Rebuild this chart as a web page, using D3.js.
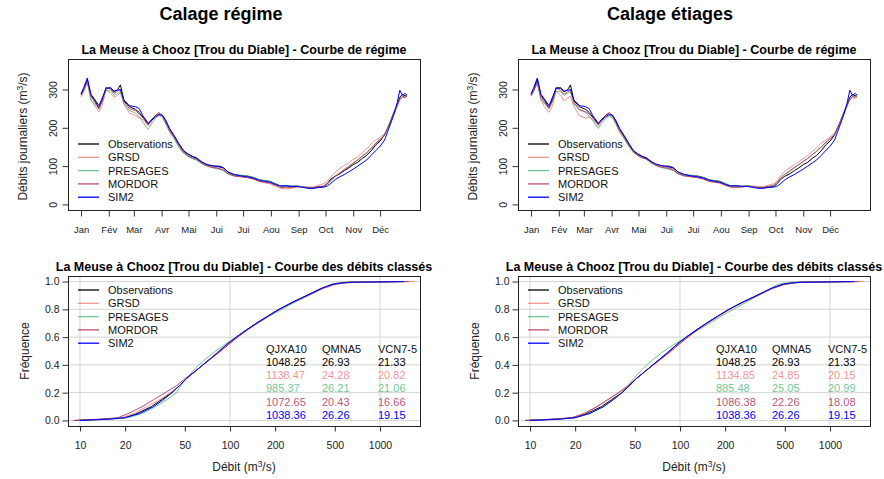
<!DOCTYPE html>
<meta charset="utf-8">
<style>
body { margin: 0; background: #fff; }
svg text { font-family: "Liberation Sans", Arial, sans-serif; }
</style>
<body>
<script src="https://cdn.jsdelivr.net/npm/d3@7"></script>
<script>
// --- data ---
var seriesNames = ["Observations", "GRSD", "PRESAGES", "MORDOR", "SIM2"];
var seriesColors = ["#000000", "#F08080", "#3CB371", "#B03060", "#0000FF"];
var seriesOpacity = [1, 0.85, 0.75, 0.85, 1];

var monthDays = [1, 32, 60, 91, 121, 152, 182, 213, 244, 274, 305, 335];
var monthLabels = ["Jan", "Fév", "Mar", "Avr", "Mai", "Jui", "Jui", "Aou", "Sep", "Oct", "Nov", "Déc"];
var regimeTicks = [0, 100, 200, 300];

var days = [1, 4, 8, 12, 16, 21, 25, 29, 34, 38, 42, 45, 49, 55, 62, 66, 70, 76, 80, 84,
  88, 92, 96, 100, 105, 110, 115, 120, 125, 130, 135, 140, 145, 150, 155, 160, 165, 172, 180, 187,
  194, 200, 206, 212, 218, 224, 230, 236, 242, 248, 254, 260, 266, 272, 276, 280, 285, 290, 295, 300,
  305, 310, 315, 320, 325, 330, 335, 340, 345, 350, 354, 357, 360, 363, 365];

var regObs = [290, 300, 326, 285, 272, 252, 275, 305, 303, 294, 300, 312, 270, 255, 248,
  240, 228, 210, 222, 232, 236, 232, 215, 195, 178, 158, 140, 132, 125, 122,
  112, 105, 102, 100, 100, 96, 84, 78, 75, 74, 70, 64, 62, 60, 54,
  48, 48, 47, 48, 46, 44, 43, 46, 47, 54, 66, 74, 80, 88, 95,
  104, 110, 120, 128, 140, 155, 165, 182, 208, 238, 260, 280, 287, 283, 288];
var regSim2 = [288, 305, 330, 288, 275, 258, 280, 302, 305, 296, 298, 300, 272, 258, 255,
  250, 232, 212, 220, 228, 234, 233, 218, 198, 180, 160, 142, 132, 126, 120,
  112, 106, 102, 100, 98, 95, 85, 78, 74, 72, 68, 63, 60, 58, 52,
  48, 49, 47, 47, 45, 42, 42, 44, 45, 48, 55, 65, 72, 78, 85,
  92, 100, 108, 116, 128, 140, 152, 168, 200, 232, 265, 298, 285, 290, 285];

// calage régime
var regGrsdA = [280, 295, 318, 275, 258, 242, 262, 300, 290, 280, 285, 292, 262, 238, 232,
  226, 222, 205, 218, 230, 238, 228, 208, 188, 172, 152, 136, 126, 120, 116,
  108, 102, 98, 96, 94, 90, 80, 74, 72, 70, 66, 60, 56, 54, 48,
  42, 40, 42, 46, 47, 46, 45, 50, 54, 60, 72, 84, 94, 102, 108,
  118, 124, 135, 145, 158, 168, 175, 185, 205, 232, 255, 272, 280, 278, 282];
var regPresagesA = [285, 298, 320, 272, 262, 250, 270, 298, 296, 285, 290, 295, 262, 245, 238,
  228, 215, 196, 212, 225, 232, 226, 210, 190, 172, 150, 134, 126, 120, 116,
  108, 102, 98, 94, 92, 88, 80, 76, 76, 74, 70, 64, 62, 60, 54,
  48, 48, 48, 48, 46, 44, 42, 44, 46, 52, 62, 72, 82, 92, 100,
  108, 116, 126, 136, 146, 158, 168, 182, 208, 236, 258, 275, 280, 282, 284];
var regMordorA = [285, 298, 322, 282, 268, 250, 272, 306, 300, 290, 296, 300, 268, 250, 244,
  236, 226, 208, 220, 232, 240, 232, 214, 194, 176, 156, 138, 128, 122, 118,
  110, 102, 98, 96, 94, 90, 80, 74, 72, 70, 66, 60, 58, 56, 50,
  44, 44, 44, 46, 45, 43, 43, 46, 48, 54, 64, 74, 82, 90, 98,
  108, 116, 126, 134, 146, 160, 170, 180, 206, 234, 258, 276, 282, 280, 283];

// calage étiages
var regGrsdB = [282, 296, 316, 272, 255, 240, 258, 296, 285, 270, 278, 282, 255, 232, 225,
  228, 222, 204, 218, 230, 236, 228, 208, 188, 172, 154, 138, 128, 122, 118,
  110, 104, 100, 98, 96, 92, 82, 76, 72, 70, 66, 60, 58, 56, 50,
  46, 44, 46, 48, 48, 47, 46, 50, 54, 60, 76, 88, 96, 104, 112,
  120, 128, 138, 148, 160, 168, 176, 186, 208, 234, 256, 272, 278, 276, 280];
var regPresagesB = [286, 298, 318, 275, 264, 252, 270, 296, 294, 284, 290, 294, 262, 246, 240,
  230, 218, 198, 212, 224, 230, 226, 210, 190, 172, 152, 136, 128, 122, 118,
  108, 102, 98, 94, 92, 88, 80, 76, 76, 74, 70, 64, 62, 60, 54,
  48, 48, 48, 49, 47, 45, 44, 46, 48, 54, 66, 76, 86, 96, 104,
  112, 120, 130, 140, 150, 160, 170, 184, 210, 236, 258, 274, 280, 282, 284];
var regMordorB = [284, 297, 320, 280, 266, 250, 270, 304, 298, 288, 294, 298, 266, 248, 242,
  236, 226, 208, 220, 232, 240, 232, 214, 194, 176, 156, 138, 128, 122, 118,
  110, 102, 98, 96, 94, 90, 80, 74, 72, 70, 66, 60, 58, 56, 50,
  45, 45, 45, 47, 46, 44, 44, 47, 50, 58, 70, 80, 88, 96, 104,
  112, 120, 130, 138, 150, 162, 172, 182, 208, 236, 258, 276, 282, 280, 283];

// courbe des débits classés : fréquence -> débit
var fdcFreq = [0, 0.005, 0.01, 0.02, 0.05, 0.1, 0.15, 0.2, 0.25, 0.3, 0.35, 0.4, 0.45, 0.5,
  0.55, 0.6, 0.65, 0.7, 0.75, 0.8, 0.85, 0.9, 0.95, 0.98, 0.99, 0.995, 1.0];
var fdcObs = [9.3, 12, 15, 20, 24, 30, 35, 41, 46, 51, 58, 66, 75, 85, 96, 110, 128, 150, 178, 212, 260, 325, 405, 480, 550, 620, 1480];
var fdcSim2 = [10, 13, 16, 20, 25, 31, 36, 41, 46, 51, 58, 66, 75, 85, 96, 110, 128, 150, 178, 212, 260, 325, 405, 485, 560, 640, 1450];
var fdcGrsdA = [9.5, 12, 15, 19, 23, 28, 34, 40, 46, 51, 58, 66, 75, 86, 98, 112, 130, 152, 180, 215, 265, 335, 420, 510, 600, 700, 1700];
var fdcPresagesA = [9.8, 13, 16, 21, 26, 32, 38, 44, 47, 51, 56, 62, 70, 80, 93, 110, 130, 154, 182, 222, 270, 335, 410, 470, 520, 570, 1300];
var fdcMordorA = [9, 11, 14, 18, 21, 26, 31, 37, 44, 50, 58, 66, 76, 87, 99, 113, 130, 152, 180, 214, 262, 330, 410, 490, 560, 640, 1550];
var fdcGrsdB = [9.5, 12, 15, 19, 23, 28, 33, 39, 45, 51, 58, 67, 77, 88, 99, 113, 130, 152, 180, 215, 262, 330, 415, 505, 590, 680, 1680];
var fdcPresagesB = [10, 13, 16, 20, 25, 31, 36, 41, 45, 49, 54, 60, 68, 78, 92, 110, 132, 158, 188, 228, 275, 335, 400, 450, 500, 560, 1150];
var fdcMordorB = [9.5, 12, 15, 19, 23, 28, 33, 39, 45, 51, 58, 66, 76, 87, 99, 113, 130, 152, 180, 214, 262, 330, 410, 495, 570, 650, 1560];

var fdcXTicks = [10, 20, 50, 100, 200, 500, 1000];
var fdcGridX = [10, 100, 1000];
var fdcYTicks = [0, 0.2, 0.4, 0.6, 0.8, 1.0];

var tableHeader = ["QJXA10", "QMNA5", "VCN7-5"];
var tableA = [["1048.25", "26.93", "21.33"], ["1138.47", "24.28", "20.82"], ["985.37", "26.21", "21.06"],
              ["1072.65", "20.43", "16.66"], ["1038.36", "26.26", "19.15"]];
var tableB = [["1048.25", "26.93", "21.33"], ["1134.85", "24.85", "20.15"], ["885.48", "25.05", "20.99"],
              ["1086.38", "22.26", "18.08"], ["1038.36", "26.26", "19.15"]];

// --- drawing ---
var W = 352;
var svg = d3.select("body").append("svg").attr("width", 884).attr("height", 479);
svg.append("rect").attr("width", 884).attr("height", 479).attr("fill", "#fff");

svg.append("text").attr("x", 221).attr("y", 20).attr("text-anchor", "middle")
    .style("font-weight", "bold").style("font-size", "18px").text("Calage régime");
svg.append("text").attr("x", 670).attr("y", 20).attr("text-anchor", "middle")
    .style("font-weight", "bold").style("font-size", "18px").text("Calage étiages");

function unitTitle(sel, prefix) {
  sel.append("tspan").text(prefix + " (m");
  sel.append("tspan").attr("dy", -4).style("font-size", "8.5px").text("3");
  sel.append("tspan").attr("dy", 4).text("/s)");
}

function legend(g, y0) {
  seriesNames.forEach(function(n, i) {
    var y = y0 + i * 13.3;
    g.append("line").attr("x1", 10).attr("x2", 31).attr("y1", y).attr("y2", y)
        .attr("stroke", seriesColors[i]).attr("stroke-opacity", seriesOpacity[i]).attr("stroke-width", 1.3);
    g.append("text").attr("x", 40).attr("y", y + 4).style("font-size", "11px").attr("fill", "#111").text(n);
  });
}

function styleAxis(a) {
  a.select(".domain").remove();
  a.selectAll("line").attr("stroke", "#333");
  a.selectAll("text").attr("fill", "#222").style("font-family", "'Liberation Sans', Arial, sans-serif");
}

function drawRegime(ox, sims) {
  var H = 151;
  var g = svg.append("g").attr("transform", "translate(" + ox + ",59)");
  var x = d3.scaleLinear().domain([1 - 14.56, 365 + 14.56]).range([0, W]);
  var y = d3.scaleLinear().domain([-14.6, 379.6]).range([H, 0]);

  var line = d3.line().x(function(d, i) { return x(days[i]); }).y(function(d) { return y(d); });
  sims.forEach(function(s, i) {
    g.append("path").datum(s).attr("d", line).attr("fill", "none")
        .attr("stroke", seriesColors[i]).attr("stroke-opacity", seriesOpacity[i]).attr("stroke-width", 1);
  });

  g.append("rect").attr("x", 0.5).attr("y", 0.5).attr("width", W).attr("height", H)
      .attr("fill", "none").attr("stroke", "#222");

  var ax = g.append("g").attr("transform", "translate(0," + (H + 0.5) + ")")
      .call(d3.axisBottom(x).tickValues(monthDays).tickSize(6).tickPadding(10)
        .tickFormat(function(d, i) { return monthLabels[i]; }));
  styleAxis(ax);
  ax.selectAll("text").style("font-size", "9.5px");

  var ay = g.append("g").attr("transform", "translate(0.5,0)")
      .call(d3.axisLeft(y).tickValues(regimeTicks).tickSize(6));
  styleAxis(ay);
  ay.selectAll("text").attr("x", 0).attr("y", -12).attr("dy", 0)
      .attr("text-anchor", "middle").attr("transform", "rotate(-90)").style("font-size", "10.5px");

  g.append("text").attr("x", W / 2).attr("y", -5).attr("text-anchor", "middle")
      .style("font-weight", "bold").style("font-size", "12.5px")
      .text("La Meuse à Chooz [Trou du Diable] - Courbe de régime");

  var yt = g.append("text").attr("transform", "translate(-41," + (H / 2 + 2) + ") rotate(-90)")
      .attr("text-anchor", "middle").style("font-size", "12px").attr("fill", "#222");
  unitTitle(yt, "Débits journaliers");

  legend(g, 85);
}

function drawFdc(ox, sims, table) {
  var H = 150;
  var g = svg.append("g").attr("transform", "translate(" + ox + ",276)");
  var x = d3.scaleLog().domain([8.318, 1848]).range([0, W]);
  var y = d3.scaleLinear().domain([-0.04, 1.04]).range([H, 0]);

  fdcGridX.forEach(function(v) {
    g.append("line").attr("x1", x(v)).attr("x2", x(v)).attr("y1", 0).attr("y2", H)
        .attr("stroke", "#d3d3d3").attr("stroke-width", 1);
  });
  fdcYTicks.forEach(function(v) {
    g.append("line").attr("x1", 0).attr("x2", W).attr("y1", y(v)).attr("y2", y(v))
        .attr("stroke", "#d3d3d3").attr("stroke-width", 1);
  });

  var line = d3.line().x(function(d) { return x(d); }).y(function(d, i) { return y(fdcFreq[i]); });
  sims.forEach(function(s, i) {
    g.append("path").datum(s).attr("d", line).attr("fill", "none")
        .attr("stroke", seriesColors[i]).attr("stroke-opacity", seriesOpacity[i]).attr("stroke-width", 1);
  });

  g.append("rect").attr("x", 0.5).attr("y", 0.5).attr("width", W).attr("height", H)
      .attr("fill", "none").attr("stroke", "#222");

  var ax = g.append("g").attr("transform", "translate(0," + (H + 0.5) + ")")
      .call(d3.axisBottom(x).tickValues(fdcXTicks).tickSize(5).tickPadding(10).tickFormat(d3.format("d")));
  styleAxis(ax);
  ax.selectAll("text").style("font-size", "10.5px");

  var ay = g.append("g").attr("transform", "translate(0.5,0)")
      .call(d3.axisLeft(y).tickValues(fdcYTicks).tickSize(6).tickPadding(3).tickFormat(d3.format(".1f")));
  styleAxis(ay);
  ay.selectAll("text").style("font-size", "10.5px");

  g.append("text").attr("x", W / 2).attr("y", -5).attr("text-anchor", "middle")
      .style("font-weight", "bold").style("font-size", "12.5px")
      .text("La Meuse à Chooz [Trou du Diable] - Courbe des débits classés");

  g.append("text").attr("transform", "translate(-39," + (H / 2) + ") rotate(-90)")
      .attr("text-anchor", "middle").style("font-size", "12px").attr("fill", "#222").text("Fréquence");

  var xt = g.append("text").attr("x", W / 2).attr("y", H + 45).attr("text-anchor", "middle")
      .style("font-size", "12px").attr("fill", "#222");
  unitTitle(xt, "Débit");

  legend(g, 14);

  var cols = [198, 254, 310];
  tableHeader.forEach(function(h, j) {
    g.append("text").attr("x", cols[j]).attr("y", 77).style("font-size", "11px").attr("fill", "#111").text(h);
  });
  table.forEach(function(row, i) {
    row.forEach(function(v, j) {
      g.append("text").attr("x", cols[j]).attr("y", 90 + i * 13.2).style("font-size", "11px")
          .attr("fill", seriesColors[i]).attr("fill-opacity", seriesOpacity[i]).text(v);
    });
  });
}

drawRegime(68, [regObs, regGrsdA, regPresagesA, regMordorA, regSim2]);
drawRegime(518, [regObs, regGrsdB, regPresagesB, regMordorB, regSim2]);
drawFdc(68, [fdcObs, fdcGrsdA, fdcPresagesA, fdcMordorA, fdcSim2], tableA);
drawFdc(518, [fdcObs, fdcGrsdB, fdcPresagesB, fdcMordorB, fdcSim2], tableB);
</script>
</body>
